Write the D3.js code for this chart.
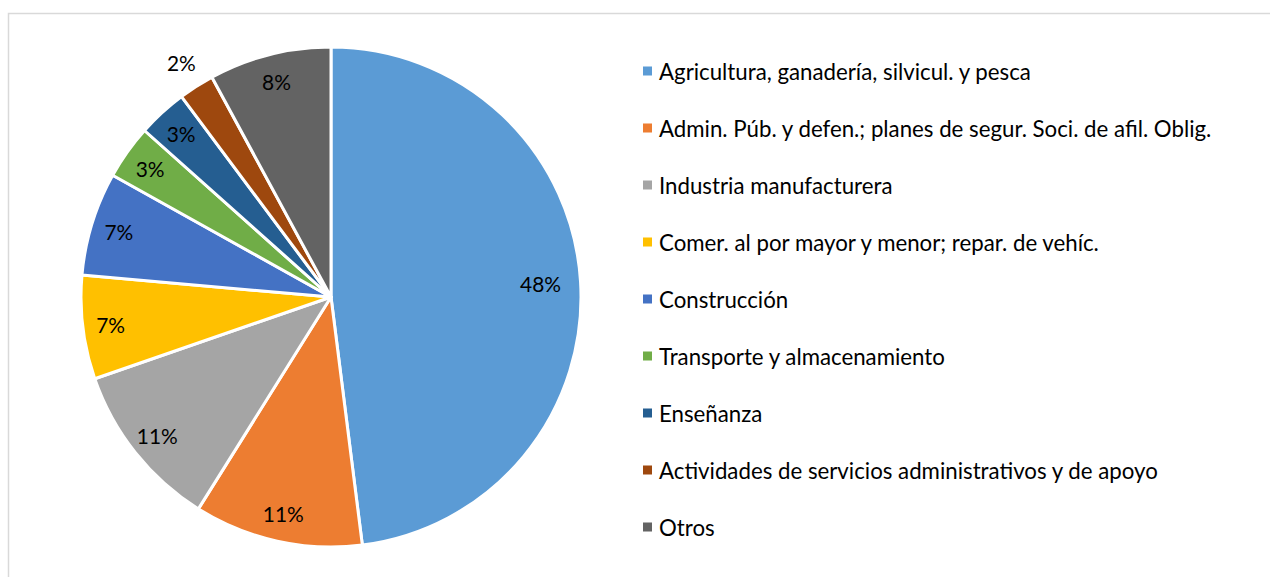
<!DOCTYPE html>
<html>
<head>
<meta charset="utf-8">
<script src="https://cdn.jsdelivr.net/npm/d3@7"></script>
<style>
  html, body { margin: 0; padding: 0; background: #fff; }
  svg { display: block; }
</style>
</head>
<body>
<svg id="chart" width="1270" height="577"></svg>
<script>
const categories = [
  "Agricultura, ganadería, silvicul. y pesca",
  "Admin. Púb. y defen.; planes de segur. Soci. de afil. Oblig.",
  "Industria manufacturera",
  "Comer. al por mayor y menor; repar. de vehíc.",
  "Construcción",
  "Transporte y almacenamiento",
  "Enseñanza",
  "Actividades de servicios administrativos y de apoyo",
  "Otros"
];
const values = [48.0, 10.9, 10.8, 6.7, 6.7, 3.5, 3.2, 2.3, 7.9];
const colors = ["#5B9BD5", "#ED7D31", "#A5A5A5", "#FFC000", "#4472C4", "#70AD47", "#255E91", "#9E480E", "#636363"];

const FONT = "Lato, 'Open Sans', sans-serif";
const svg = d3.select("#chart");

// chart frame
svg.append("rect")
  .attr("x", 8.5).attr("y", 13.5)
  .attr("width", 1300).attr("height", 600)
  .attr("fill", "#fff").attr("stroke", "#d9d9d9").attr("stroke-width", 1.5);

const cx = 331, cy = 297, R = 250;
const pie = d3.pie().sort(null).value(d => d.v);
const arcs = pie(values.map((v, i) => ({ v, i })));
const arc = d3.arc().innerRadius(0).outerRadius(R);

const g = svg.append("g").attr("transform", `translate(${cx},${cy})`);
g.selectAll("path.slice").data(arcs).enter().append("path")
  .attr("class", "slice")
  .attr("d", arc)
  .attr("fill", d => colors[d.data.i])
  .attr("stroke", "#fff").attr("stroke-width", 3).attr("stroke-linejoin", "round");

const total = d3.sum(values);
const lbls = g.selectAll("text.lbl").data(arcs).enter().append("text")
  .attr("class", "lbl")
  .each(function(d) {
    const a = (d.startAngle + d.endAngle) / 2;
    const small = (d.endAngle - d.startAngle) < 0.16;
    const r = small ? R + 28 : (d.data.i === 0 ? 210 : 222);
    d3.select(this)
      .attr("x", Math.sin(a) * r)
      .attr("y", -Math.cos(a) * r);
  })
  .attr("text-anchor", "middle")
  .attr("dominant-baseline", "central")
  .attr("font-family", FONT).attr("font-size", 19).attr("fill", "#000")
  .text(d => Math.round(d.data.v / total * 100) + "%");

// legend
const legX = 643, legY0 = 71, legStep = 57;
const leg = svg.append("g");
const items = leg.selectAll("g").data(categories).enter().append("g")
  .attr("transform", (d, i) => `translate(${legX},${legY0 + i * legStep})`);
items.append("rect").attr("x", 0).attr("y", -4.5).attr("width", 9).attr("height", 9)
  .attr("fill", (d, i) => colors[i]);
const texts = items.append("text").attr("x", 16).attr("y", 0)
  .attr("dominant-baseline", "central")
  .attr("font-family", FONT).attr("font-size", 19).attr("fill", "#000")
  .text(d => d);
// fit font size to reference width of the longest legend entry
const w = texts.filter((d, i) => i === 7).node().getComputedTextLength();
const fs = 19 * 499 / w;
texts.attr("font-size", fs);
// fit percentage labels to reference width of "48%"
const w48 = lbls.filter(d => d.data.i === 0).node().getComputedTextLength();
lbls.attr("font-size", 19 * 41 / w48);
</script>
</body>
</html>
